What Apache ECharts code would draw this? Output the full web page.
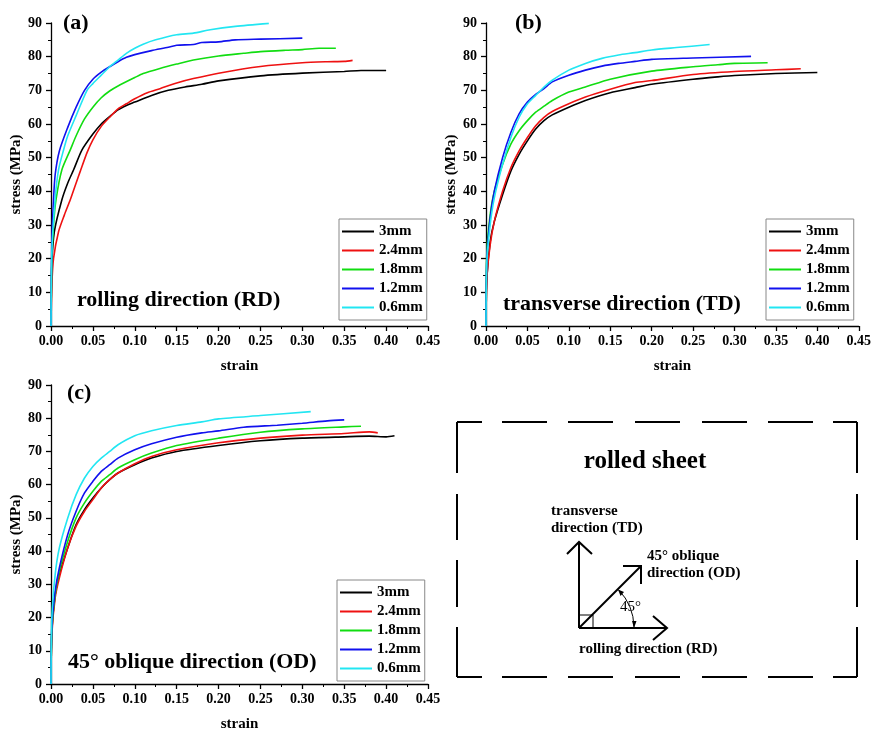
<!DOCTYPE html>
<html>
<head>
<meta charset="utf-8">
<script src="https://cdn.jsdelivr.net/npm/echarts@6/dist/echarts.min.js"></script>
<style>
html,body{margin:0;padding:0;background:#fff;}
#chart{width:874px;height:733px;}
</style>
</head>
<body>
<div id="chart"></div>
<script>
// ---------- data ----------
const seriesNames = ['3mm', '2.4mm', '1.8mm', '1.2mm', '0.6mm'];
const seriesColors = ['#000000', '#ee1111', '#11dd11', '#1111ee', '#22e6f2'];
const xTicks = [0, 0.05, 0.10, 0.15, 0.20, 0.25, 0.30, 0.35, 0.40, 0.45];
const yTicks = [0, 10, 20, 30, 40, 50, 60, 70, 80, 90];
const panelLabels = ['(a)', '(b)', '(c)'];
const panelTitles = ['rolling direction (RD)', 'transverse direction (TD)', '45\u00b0 oblique direction (OD)'];

// (a) rolling direction: [strain, stress MPa]
const RD_3mm = [[0,0],[0.001,18],[0.004,28],[0.013,37.5],[0.02,42.5],[0.027,46.4],[0.037,52.3],[0.05,57],[0.06,60],[0.07,62.2],[0.08,64.2],[0.09,65.5],[0.10,66.5],[0.12,68.5],[0.14,70],[0.16,71],[0.18,71.8],[0.20,72.8],[0.25,74.3],[0.30,75.1],[0.35,75.6],[0.37,75.9],[0.40,75.9]];
const RD_2_4mm = [[0,0],[0.001,12],[0.003,20],[0.009,28],[0.016,33],[0.023,37.5],[0.03,42.5],[0.035,46],[0.043,51.5],[0.05,55.3],[0.06,59.3],[0.07,62],[0.08,64.5],[0.09,66],[0.10,67.5],[0.115,69.3],[0.13,70.5],[0.15,72.2],[0.17,73.5],[0.20,75.1],[0.25,77.1],[0.30,78.2],[0.33,78.5],[0.35,78.6],[0.36,78.9]];
const RD_1_8mm = [[0,0],[0.001,20],[0.003,30],[0.006,37.5],[0.013,46.4],[0.023,52.3],[0.03,56.5],[0.04,61.5],[0.05,65],[0.06,67.8],[0.07,69.8],[0.08,71.3],[0.10,73.8],[0.11,75],[0.13,76.5],[0.15,77.8],[0.17,79],[0.20,80.2],[0.23,81],[0.25,81.5],[0.28,81.9],[0.30,82.1],[0.32,82.5],[0.34,82.5]];
const RD_1_2mm = [[0,0],[0.001,25],[0.003,37.5],[0.005,45],[0.01,52],[0.02,59],[0.03,65],[0.04,70],[0.05,73.3],[0.06,75.4],[0.07,77],[0.08,78.5],[0.09,79.8],[0.10,80.6],[0.12,81.8],[0.14,82.8],[0.15,83.4],[0.17,83.6],[0.18,84.2],[0.20,84.4],[0.22,85],[0.25,85.2],[0.30,85.5]];
const RD_0_6mm = [[0,0],[0.001,22],[0.005,38],[0.009,46.4],[0.015,52.3],[0.02,56.5],[0.03,62.5],[0.043,70],[0.05,72],[0.06,74.5],[0.07,77],[0.08,79],[0.09,81],[0.10,82.5],[0.11,83.7],[0.125,85],[0.15,86.5],[0.17,87],[0.19,88],[0.22,89],[0.26,89.9]];

// (b) transverse direction
const TD_3mm = [[0,0],[0.001,14],[0.005,25],[0.01,31],[0.02,39],[0.03,46],[0.04,51],[0.05,55],[0.06,58.5],[0.07,61],[0.08,62.7],[0.10,65],[0.12,67],[0.15,69.3],[0.18,70.8],[0.20,71.8],[0.25,73.3],[0.28,74],[0.30,74.4],[0.35,75],[0.40,75.3]];
const TD_2_4mm = [[0,0],[0.001,14],[0.005,24],[0.01,31],[0.02,40],[0.03,47],[0.04,52],[0.05,56],[0.06,59.5],[0.07,62],[0.08,63.7],[0.10,66],[0.12,68],[0.15,70.3],[0.18,72.3],[0.20,72.9],[0.25,74.7],[0.30,75.6],[0.35,76.1],[0.38,76.4]];
const TD_1_8mm = [[0,0],[0.001,22],[0.005,33],[0.01,40],[0.02,48],[0.03,54],[0.04,58],[0.05,61],[0.06,63.5],[0.07,65.3],[0.08,67],[0.10,69.5],[0.12,71],[0.15,73.3],[0.20,75.7],[0.25,77],[0.28,77.6],[0.30,78],[0.34,78.2]];
const TD_1_2mm = [[0,0],[0.001,20],[0.005,32],[0.01,40],[0.02,50],[0.03,57.5],[0.04,63],[0.05,66.5],[0.06,68.8],[0.07,70.5],[0.08,72.5],[0.10,74.5],[0.12,76],[0.14,77.2],[0.16,78],[0.18,78.6],[0.20,79.2],[0.25,79.6],[0.32,80.1]];
const TD_0_6mm = [[0,0],[0.001,19],[0.005,30],[0.01,38],[0.02,48],[0.03,56],[0.04,62],[0.05,66],[0.06,68.5],[0.07,71],[0.08,73],[0.10,76],[0.12,78],[0.14,79.5],[0.16,80.5],[0.18,81.2],[0.20,82],[0.23,82.7],[0.27,83.6]];

// (c) 45 degree oblique direction
const OD_3mm = [[0,0],[0.001,16],[0.005,27],[0.01,33],[0.02,41],[0.03,48],[0.04,52.5],[0.05,56],[0.06,59],[0.07,61.5],[0.08,63.5],[0.10,66],[0.12,68],[0.15,70],[0.20,71.8],[0.25,73.2],[0.30,74],[0.35,74.4],[0.38,74.6],[0.40,74.4],[0.41,74.7]];
const OD_2_4mm = [[0,0],[0.001,15],[0.005,26],[0.01,32],[0.02,41],[0.03,47.5],[0.04,52],[0.05,55.5],[0.06,59],[0.07,61.5],[0.08,63.5],[0.10,66.3],[0.12,68.5],[0.15,70.5],[0.20,72.6],[0.25,74],[0.30,74.9],[0.35,75.4],[0.38,75.9],[0.39,75.6]];
const OD_1_8mm = [[0,0],[0.001,16],[0.005,27],[0.01,34],[0.02,43],[0.03,50],[0.04,54.5],[0.05,58],[0.06,61],[0.07,63],[0.08,65],[0.10,67.5],[0.12,69.5],[0.15,71.8],[0.20,74],[0.25,75.8],[0.30,76.8],[0.35,77.4],[0.37,77.6]];
const OD_1_2mm = [[0,0],[0.001,17],[0.005,28],[0.01,35],[0.02,45],[0.03,52],[0.04,57.5],[0.05,61],[0.06,64],[0.07,66],[0.08,68],[0.10,70.5],[0.12,72.3],[0.15,74.3],[0.18,75.6],[0.20,76.2],[0.23,77.3],[0.27,77.9],[0.30,78.5],[0.33,79.2],[0.35,79.5]];
const OD_0_6mm = [[0,0],[0.001,20],[0.005,33],[0.01,41],[0.02,50],[0.03,57],[0.04,62],[0.05,65.5],[0.06,68],[0.07,70],[0.08,72],[0.10,74.7],[0.12,76.2],[0.15,77.8],[0.18,78.9],[0.20,79.8],[0.25,80.8],[0.31,82]];

const panelData = [
  [RD_3mm, RD_2_4mm, RD_1_8mm, RD_1_2mm, RD_0_6mm],
  [TD_3mm, TD_2_4mm, TD_1_8mm, TD_1_2mm, TD_0_6mm],
  [OD_3mm, OD_2_4mm, OD_1_8mm, OD_1_2mm, OD_0_6mm]
];

// ---------- layout ----------
const FONT = "'Liberation Serif', 'Times New Roman', serif";
const grids = [
  {left: 51, top: 23, width: 377, height: 303},
  {left: 486, top: 23, width: 376, height: 303},
  {left: 51, top: 385, width: 377, height: 303}
];
const legendPos = [
  {left: 339, top: 219},
  {left: 766, top: 219},
  {left: 337, top: 580}
];
const labelPos = [
  {x: 63, y: 25}, {x: 515, y: 25}, {x: 67, y: 395}
];
const titlePos = [
  {x: 77, y: 302}, {x: 503, y: 306}, {x: 68, y: 664}
];

const axisLineStyle = {color: '#000', width: 1.3};
const xAxes = grids.map((g, i) => ({
  type: 'value', gridIndex: i, min: xTicks[0], max: xTicks[xTicks.length - 1], interval: 0.05,
  name: 'strain', nameLocation: 'middle', nameGap: 33,
  nameTextStyle: {fontFamily: FONT, fontWeight: 'bold', fontSize: 15, color: '#000'},
  axisLine: {show: true, onZero: false, lineStyle: axisLineStyle},
  axisTick: {show: true, inside: false, length: 5, lineStyle: axisLineStyle},
  minorTick: {show: true, splitNumber: 2, length: 3, lineStyle: {color: '#000', width: 1}},
  splitLine: {show: false},
  axisLabel: {fontFamily: FONT, fontWeight: 'bold', fontSize: 14, color: '#000', margin: 8,
    formatter: v => v.toFixed(2)}
}));
const yAxes = grids.map((g, i) => ({
  type: 'value', gridIndex: i, min: yTicks[0], max: yTicks[yTicks.length - 1], interval: 10,
  name: 'stress (MPa)', nameLocation: 'middle', nameGap: 26,
  nameTextStyle: {fontFamily: FONT, fontWeight: 'bold', fontSize: 15, color: '#000'},
  axisLine: {show: true, onZero: false, lineStyle: axisLineStyle},
  axisTick: {show: true, inside: false, length: 5, lineStyle: axisLineStyle},
  minorTick: {show: true, splitNumber: 2, length: 3, lineStyle: {color: '#000', width: 1}},
  splitLine: {show: false},
  axisLabel: {fontFamily: FONT, fontWeight: 'bold', fontSize: 14, color: '#000', margin: 9}
}));

const series = [];
panelData.forEach((arrs, p) => {
  arrs.forEach((d, k) => {
    series.push({
      type: 'line', name: seriesNames[k], xAxisIndex: p, yAxisIndex: p,
      data: d, showSymbol: false, smooth: 0.25, animation: false,
      lineStyle: {color: seriesColors[k], width: 1.6},
      itemStyle: {color: seriesColors[k]}
    });
  });
});

const legends = legendPos.map(pos => ({
  left: pos.left, top: pos.top, orient: 'vertical',
  data: seriesNames, icon: 'rect', itemWidth: 32, itemHeight: 2, itemGap: 4, itemTextGap: 5,
  padding: [5, 4, 5, 3], borderColor: '#888', borderWidth: 1, borderRadius: 0,
  selectedMode: false,
  textStyle: {fontFamily: FONT, fontWeight: 'bold', fontSize: 15, color: '#000'}
}));

// ---------- annotations & diagram ----------
const graphics = [];
panelLabels.forEach((t, i) => {
  graphics.push({type: 'text', left: labelPos[i].x, top: labelPos[i].y - 13,
    style: {text: t, font: "bold 22px " + FONT, fill: '#000'}});
  graphics.push({type: 'text', left: titlePos[i].x, top: titlePos[i].y - 13,
    style: {text: panelTitles[i], font: "bold 22px " + FONT, fill: '#000'}});
});

// dashed frame of the rolled-sheet diagram
const frame = {x0: 457, x1: 857, y0: 422, y1: 677};
const hDashes = [[457,482],[502,547],[568,613],[635,680],[702,747],[768,813],[833,857]];
const vDashes = [[422,473],[494,540],[560,607],[627,677]];
const dashStyle = {stroke: '#000', lineWidth: 2};
hDashes.forEach(([a, b]) => {
  graphics.push({type: 'line', shape: {x1: a, y1: frame.y0, x2: b, y2: frame.y0}, style: dashStyle});
  graphics.push({type: 'line', shape: {x1: a, y1: frame.y1, x2: b, y2: frame.y1}, style: dashStyle});
});
vDashes.forEach(([a, b]) => {
  graphics.push({type: 'line', shape: {x1: frame.x0, y1: a, x2: frame.x0, y2: b}, style: dashStyle});
  graphics.push({type: 'line', shape: {x1: frame.x1, y1: a, x2: frame.x1, y2: b}, style: dashStyle});
});
graphics.push({type: 'text', x: 645, y: 462,
  style: {text: 'rolled sheet', font: "bold 25px " + FONT, fill: '#000', textAlign: 'center', textVerticalAlign: 'middle'}});

const O = {x: 579, y: 628};
const arrowStyle = {stroke: '#000', lineWidth: 2, fill: null};
// RD arrow
graphics.push({type: 'line', shape: {x1: O.x, y1: O.y, x2: 667, y2: O.y}, style: arrowStyle});
graphics.push({type: 'polyline', shape: {points: [[653, 616], [667, O.y], [653, 640]]}, style: arrowStyle});
// TD arrow
graphics.push({type: 'line', shape: {x1: O.x, y1: O.y, x2: O.x, y2: 542}, style: arrowStyle});
graphics.push({type: 'polyline', shape: {points: [[567, 554], [O.x, 542], [592, 554]]}, style: arrowStyle});
// OD arrow
graphics.push({type: 'line', shape: {x1: O.x, y1: O.y, x2: 641, y2: 566}, style: arrowStyle});
graphics.push({type: 'polyline', shape: {points: [[623, 566], [641, 566], [641, 584]]}, style: arrowStyle});
// right-angle box
graphics.push({type: 'polyline', shape: {points: [[O.x, 615], [593, 615], [593, O.y]]}, style: {stroke: '#000', lineWidth: 1, fill: null}});
// 45 degree arc
graphics.push({type: 'arc', shape: {cx: O.x, cy: O.y, r: 55, startAngle: -Math.PI / 4 + 0.02, endAngle: -0.02, clockwise: true},
  style: {stroke: '#000', lineWidth: 1, fill: null}});
graphics.push({type: 'polygon', shape: {points: [[634, O.y], [632, 621], [636.5, 621]]}, style: {fill: '#000'}});
graphics.push({type: 'polygon', shape: {points: [[618, 589.5], [620.5, 596], [624, 592]]}, style: {fill: '#000'}});
graphics.push({type: 'text', left: 620, top: 600, style: {text: '45\u00b0', font: "15px " + FONT, fill: '#000'}});
// diagram labels
graphics.push({type: 'text', left: 551, top: 503, style: {text: 'transverse\ndirection (TD)', font: "bold 15px " + FONT, fill: '#000', lineHeight: 17}});
graphics.push({type: 'text', left: 647, top: 548, style: {text: '45\u00b0 oblique\ndirection (OD)', font: "bold 15px " + FONT, fill: '#000', lineHeight: 17}});
graphics.push({type: 'text', left: 579, top: 642, style: {text: 'rolling direction (RD)', font: "bold 15px " + FONT, fill: '#000'}});

const chart = echarts.init(document.getElementById('chart'), null, {renderer: 'canvas'});
chart.setOption({
  backgroundColor: '#fff',
  animation: false,
  grid: grids,
  xAxis: xAxes,
  yAxis: yAxes,
  legend: legends,
  series: series,
  graphic: graphics
});
</script>
</body>
</html>
